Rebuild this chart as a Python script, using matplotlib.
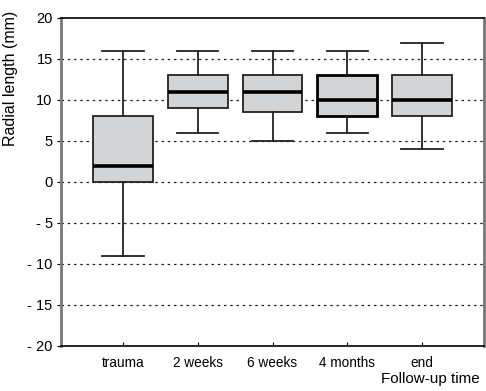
import matplotlib.pyplot as plt

plt.rcParams["font.family"] = ["Liberation Sans", "DejaVu Sans"]

# follow-up groups and box statistics (mm)
groups = ["trauma", "2 weeks", "6 weeks", "4 months", "end"]
whisker_low = [-9, 6, 5, 6, 4]
q1 = [0, 9, 8.5, 8, 8]
median = [2, 11, 11, 10, 10]
q3 = [8, 13, 13, 13, 13]
whisker_high = [16, 16, 16, 16, 17]

stats = []
for i, name in enumerate(groups):
    stats.append({
        "label": name,
        "whislo": whisker_low[i],
        "q1": q1[i],
        "med": median[i],
        "q3": q3[i],
        "whishi": whisker_high[i],
        "fliers": [],
    })

fig = plt.figure(figsize=(4.86, 3.91), dpi=100)
ax = fig.add_axes([0.1255, 0.1151, 0.8704, 0.8389])

bp = ax.bxp(stats, positions=range(1, 6), widths=0.8, patch_artist=True,
            showfliers=False,
            boxprops=dict(facecolor="#d3d4d5", edgecolor="#222222", linewidth=1.3),
            medianprops=dict(color="black", linewidth=2.6),
            whiskerprops=dict(color="#222222", linewidth=1.3),
            capprops=dict(color="#222222", linewidth=1.3),
            capwidths=0.55)
# the 4 months box has a heavier outline
bp["boxes"][3].set_linewidth(2.0)
bp["boxes"][3].set_edgecolor("black")

ax.set_xlim(0.17, 5.83)
ax.set_ylim(-20, 20)
yticks = list(range(-20, 21, 5))
ax.set_yticks(yticks)
ax.set_yticklabels([f"- {abs(v)}" if v < 0 else str(v) for v in yticks],
                   fontsize=10.5)
ax.tick_params(axis="x", labelsize=9.8, length=3, direction="in", pad=7)
ax.tick_params(axis="y", length=3, direction="out", pad=3)

for v in yticks[1:-1]:
    ax.axhline(v, color="#222222", linestyle=(0, (2, 3)), linewidth=0.9, zorder=0)

ax.spines["left"].set_color("#777777")
ax.spines["left"].set_linewidth(2)
ax.spines["right"].set_color("#777777")
ax.spines["right"].set_linewidth(2)
ax.spines["top"].set_linewidth(1.2)
ax.spines["bottom"].set_linewidth(1.2)

ax.set_ylabel("Radial length (mm)", fontsize=11.5)
ax.yaxis.set_label_coords(-0.102, 0.817)
fig.text(0.988, 0.012, "Follow-up time", ha="right", va="bottom", fontsize=11)

fig.savefig("out.png", dpi=100)
